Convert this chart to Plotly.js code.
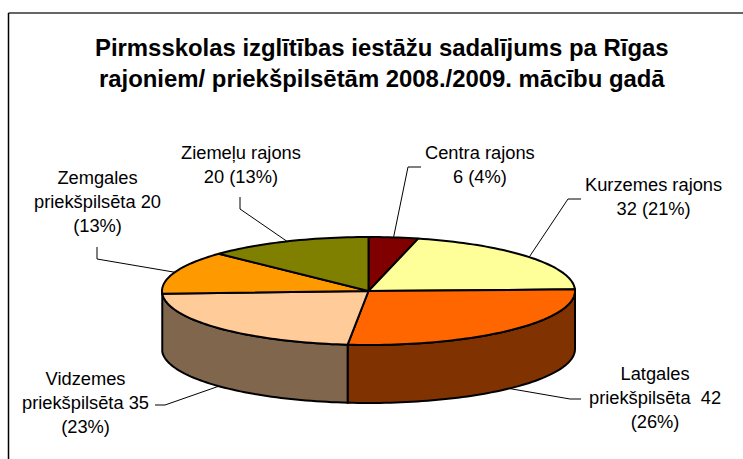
<!DOCTYPE html>
<html><head><meta charset="utf-8">
<script src="https://cdn.plot.ly/plotly-3.0.1.min.js"></script>
<style>html,body{margin:0;padding:0;background:#fff}#c{width:743px;height:459px}</style>
</head><body><div id="c"></div>
<script>
const districts = ["Centra rajons","Kurzemes rajons","Latgales priekšpilsēta","Vidzemes priekšpilsēta","Zemgales priekšpilsēta","Ziemeļu rajons"];
const counts = [6,32,42,35,20,20];
const topColors = ["#800000","#FFFF99","#FF6600","#FFCC99","#FF9900","#808000"];
const sideColors = ["#400000","#80804D","#803300","#80664D","#804D00","#404000"];
const labelTexts = ["Centra rajons<br>6 (4%)","Kurzemes rajons<br>32 (21%)","Latgales<br>priekšpilsēta  42<br>(26%)","Vidzemes<br>priekšpilsēta 35<br>(23%)","Zemgales<br>priekšpilsēta 20<br>(13%)","Ziemeļu rajons<br>20 (13%)"];
const labelPos = [[480,164],[653,196],[655,397],[85,402],[97,201],[241,164]];
const leaderElbows = [[[408,167],[421,167]],[[568,199],[581,199]],[[570,399],[581,399]],[[165,405],[155,405]],[[97,259],[97,247]],[[240,209],[240,197]]];
const title = "Pirmsskolas izglītības iestāžu sadalījums pa Rīgas<br>rajoniem/ priekšpilsētām 2008./2009. mācību gadā";

const cx=368.5, cy=291, rx=206.5, ry=54, depth=58;
const total=counts.reduce((a,b)=>a+b,0);
const pt=(deg,dy=0)=>{const t=deg*Math.PI/180;return [cx+rx*Math.sin(t), cy-ry*Math.cos(t)+dy];};
const arc=(a,b,dy=0)=>{const n=Math.max(2,Math.ceil(Math.abs(b-a)/1.5));const r=[];for(let i=0;i<=n;i++)r.push(pt(a+(b-a)*i/n,dy));return r;};
const traces=[];
const poly=(pts,fill)=>traces.push({type:"scatter",mode:"lines",x:pts.map(p=>p[0]),y:pts.map(p=>p[1]),fill:"toself",fillcolor:fill,line:{color:"#000",width:2,simplify:false},hoverinfo:"skip",showlegend:false});
const seg=(pts)=>traces.push({type:"scatter",mode:"lines",x:pts.map(p=>p[0]),y:pts.map(p=>p[1]),line:{color:"#000",width:1},hoverinfo:"skip",showlegend:false});
let acc=0;const spans=counts.map(v=>{const a=acc/total*360;acc+=v;return [a,acc/total*360];});
// leader lines start at the middle of each slice's outer rim
spans.forEach((s,i)=>{
  const deg=(s[0]+s[1])/2;
  const front=deg>90&&deg<270;
  seg([pt(deg,front?depth:0)].concat(leaderElbows[i]));
});
// side walls
spans.forEach((s,i)=>{const a=Math.max(s[0],90),b=Math.min(s[1],270);
  if(b>a+3.5){const f=arc(a,b,0),g=arc(b,a,depth);poly(f.concat(g,[f[0]]),sideColors[i]);}
});
// top faces
spans.forEach((s,i)=>{poly([[cx,cy]].concat(arc(s[0],s[1]),[[cx,cy]]),topColors[i]);});
const layout={width:743,height:459,margin:{l:0,r:0,t:0,b:0},paper_bgcolor:"#fff",plot_bgcolor:"#fff",
 showlegend:false,
 xaxis:{range:[0,743],visible:false,fixedrange:true},
 yaxis:{range:[459,0],visible:false,fixedrange:true},
 shapes:[
  {type:"line",xref:"x",yref:"y",x0:8.5,x1:743,y0:13,y1:13,line:{color:"#333",width:1.5}},
  {type:"line",xref:"x",yref:"y",x0:8.5,x1:8.5,y0:13,y1:459,line:{color:"#000",width:1.5}}
 ],
 annotations:[
  {text:title,xref:"x",yref:"y",x:382,y:62.5,showarrow:false,xanchor:"center",yanchor:"middle",align:"center",font:{family:"Liberation Sans",size:23.9,color:"#000",weight:700}}
 ].concat(labelTexts.map((t,i)=>({text:t,xref:"x",yref:"y",x:labelPos[i][0],y:labelPos[i][1],showarrow:false,xanchor:"center",yanchor:"middle",align:"center",font:{family:"Liberation Sans",size:18.3,color:"#000"}})))
};
Plotly.newPlot("c",traces,layout,{displayModeBar:false,staticPlot:true});
</script></body></html>
